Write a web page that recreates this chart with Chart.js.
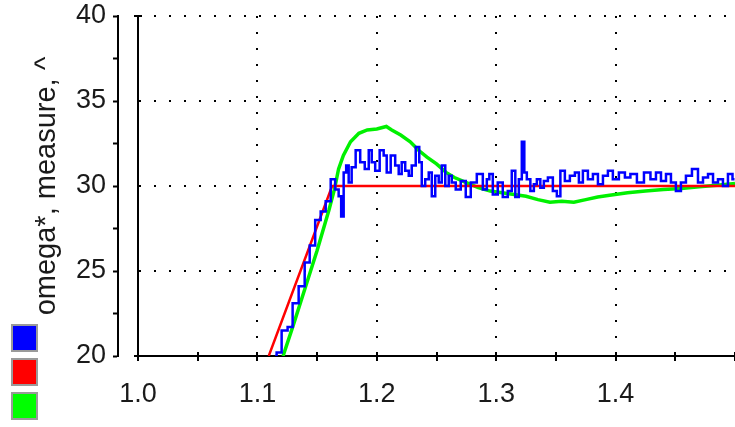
<!DOCTYPE html>
<html>
<head>
<meta charset="utf-8">
<script src="https://cdn.jsdelivr.net/npm/chart.js@4/dist/chart.umd.min.js"></script>
<style>
  html, body { margin: 0; padding: 0; background: #fff; }
  #c { display: block; }
</style>
</head>
<body>
<canvas id="c" width="735" height="427"></canvas>
<script>
// Speed step response: reference omega*, measured speed and estimate
const refX = [1.1095, 1.1626, 1.5];
const refY = [20, 30, 30];

const measX = [
  1.1148, 1.1174, 1.1232, 1.1274, 1.1316, 1.1375, 1.1417, 1.1459, 1.1509, 1.1551,
  1.1593, 1.1635, 1.1668, 1.1693, 1.1710, 1.1735, 1.1752, 1.1777, 1.1802, 1.1844,
  1.1878, 1.1920, 1.1945, 1.1970, 1.2003, 1.2045, 1.2070, 1.2096, 1.2137, 1.2171,
  1.2196, 1.2221, 1.2255, 1.2280, 1.2305, 1.2347, 1.2364, 1.2389, 1.2422, 1.2448,
  1.2473, 1.2506, 1.2531, 1.2557, 1.2590, 1.2615, 1.2640, 1.2682, 1.2724, 1.2766,
  1.2808, 1.2867, 1.2909, 1.2934, 1.2951, 1.2992, 1.3034, 1.3076, 1.3118, 1.3143,
  1.3177, 1.3202, 1.3227, 1.3244, 1.3269, 1.3303, 1.3328, 1.3353, 1.3386, 1.3412,
  1.3454, 1.3495, 1.3521, 1.3554, 1.3596, 1.3638, 1.3680, 1.3705, 1.3747, 1.3789,
  1.3831, 1.3873, 1.3915, 1.3956, 1.3998, 1.4057, 1.4099, 1.4149, 1.4208, 1.4267,
  1.4317, 1.4359, 1.4401, 1.4443, 1.4484, 1.4526, 1.4568, 1.4610, 1.4669, 1.4711,
  1.4753, 1.4795, 1.4837, 1.4878, 1.4920, 1.4962, 1.4996
];
const measY = [
  20.0, 20.2, 21.5, 21.7, 23.1, 24.1, 25.5, 26.5, 28.0, 28.5,
  29.1, 30.4, 29.8, 29.4, 28.2, 30.8, 31.2, 30.2, 31.1, 32.1,
  31.4, 31.0, 32.1, 31.4, 30.9, 32.1, 31.8, 30.8, 31.8, 31.2,
  30.7, 31.4, 30.9, 30.6, 31.2, 32.3, 31.4, 30.0, 30.4, 30.8,
  29.4, 30.6, 30.2, 31.2, 30.0, 30.6, 30.2, 29.8, 30.3, 29.35,
  30.2, 30.7, 29.8, 30.4, 30.7, 29.5, 30.2, 29.35, 29.7, 30.9,
  29.35, 30.4, 32.6, 30.8, 30.4, 29.7, 30.1, 30.4, 29.9, 30.3,
  30.5, 29.7, 29.4, 30.9, 30.3, 30.6, 30.8, 30.2, 30.9, 30.4,
  30.7, 30.1, 30.6, 30.9, 30.4, 30.8, 30.5, 30.7, 30.2, 30.8,
  30.4, 30.8, 30.3, 30.7, 30.2, 29.7, 30.2, 30.6, 31.0, 30.2,
  30.5, 30.7, 30.2, 30.4, 30.0, 30.7, 30.4
];

const estX = [
  1.1215, 1.1300, 1.1400, 1.1500, 1.1600, 1.1645, 1.1680, 1.1720, 1.1780, 1.1850,
  1.1920, 1.2000, 1.2080, 1.2125, 1.2200, 1.2280, 1.2350, 1.2420, 1.2500, 1.2580,
  1.2650, 1.2750, 1.2850, 1.2950, 1.3050, 1.3150, 1.3250, 1.3350, 1.3450, 1.3550,
  1.3650, 1.3750, 1.3850, 1.3950, 1.4100, 1.4250, 1.4400, 1.4550, 1.4700, 1.4850,
  1.5000
];
const estY = [
  20.0, 21.8, 24.0, 26.2, 28.6, 29.8, 31.0, 31.8, 32.6, 33.1,
  33.3, 33.35, 33.5, 33.3, 33.0, 32.6, 32.1, 31.7, 31.3, 30.8,
  30.5, 30.2, 29.9, 29.7, 29.6, 29.5, 29.4, 29.2, 29.05, 29.1,
  29.05, 29.2, 29.35, 29.45, 29.6, 29.7, 29.8, 29.85, 29.95, 30.05,
  30.15
];

const xTicks = ['1.0', '1.1', '1.2', '1.3', '1.4'];
const yTicks = ['20', '25', '30', '35', '40'];

const pair = (xs, ys) => xs.map((x, i) => ({ x: x, y: ys[i] }));

const tickFont = { family: "'Liberation Sans', Arial, sans-serif", size: 27 };
const titleFont = { family: "'Liberation Sans', Arial, sans-serif", size: 29 };
const inkColor = '#1a1a1a';

// short tick marks above the time axis and a cap on the t = 1.0 line
const axisMarks = {
  id: 'axisMarks',
  afterDatasetsDraw(chart) {
    const { ctx, scales } = chart;
    const x = scales.x, y = scales.y;
    ctx.save();
    ctx.strokeStyle = '#000';
    ctx.lineWidth = 2;
    ctx.beginPath();
    x.ticks.forEach(t => {
      const px = Math.round(x.getPixelForValue(t.value));
      ctx.moveTo(px, x.top - 4);
      ctx.lineTo(px, x.top);
    });
    const top = y.getPixelForValue(y.max);
    const x0 = x.getPixelForValue(x.min);
    ctx.moveTo(x0 - 4, top);
    ctx.lineTo(x0 + 4, top);
    ctx.moveTo(x0 - 4, x.top);
    ctx.lineTo(x0, x.top);
    ctx.stroke();
    ctx.restore();
  }
};

new Chart(document.getElementById('c'), {
  type: 'line',
  data: {
    datasets: [
      { label: 'measure', data: pair(measX, measY), borderColor: '#0000ff', backgroundColor: '#0000ff',
        borderWidth: 2.5, pointRadius: 0, tension: 0, stepped: 'middle' },
      { label: 'omega*', data: pair(refX, refY), borderColor: '#ff0000', backgroundColor: '#ff0000',
        borderWidth: 2.5, pointRadius: 0, tension: 0 },
      { label: '^', data: pair(estX, estY), borderColor: '#00f000', backgroundColor: '#00ff00',
        borderWidth: 3.5, pointRadius: 0, tension: 0 }
    ]
  },
  options: {
    responsive: false,
    animation: false,
    layout: { padding: { left: 4, top: 16, right: 0, bottom: 0 } },
    plugins: {
      tooltip: { enabled: false },
      legend: {
        position: 'left',
        align: 'end',
        onClick: null,
        labels: {
          boxWidth: 25,
          boxHeight: 26,
          padding: 8,
          font: { size: 2 },
          generateLabels: chart => chart.data.datasets.map((d, i) => ({
            text: '',
            fillStyle: d.backgroundColor,
            strokeStyle: '#9a9a9a',
            lineWidth: 2,
            hidden: false,
            datasetIndex: i
          }))
        }
      }
    },
    scales: {
      x: {
        type: 'linear',
        position: 'bottom',
        min: 1.0,
        max: 1.5,
        afterFit: s => { s.height = 71; s.paddingLeft = 0; s.paddingRight = 0; },
        ticks: {
          stepSize: 0.05,
          autoSkip: false,
          maxRotation: 0,
          padding: 17,
          font: tickFont,
          color: inkColor,
          callback: v => {
            const r = Math.round(v * 100);
            if (r % 10 !== 0) return '';
            const idx = (r - 100) / 10;
            return idx < xTicks.length ? xTicks[idx] : '';
          }
        },
        grid: {
          color: c => {
            const r = Math.round(c.tick.value * 100);
            return (r % 10 === 0 && r > 100 && r < 150) ? '#000' : 'rgba(0,0,0,0)';
          },
          lineWidth: 2,
          tickColor: '#000',
          tickLength: 5,
          tickWidth: 2
        },
        border: { display: true, color: '#000', width: 2, dash: [2, 14] }
      },
      y: {
        type: 'linear',
        position: 'left',
        weight: 2,
        min: 20,
        max: 40,
        afterFit: s => { s.width = 70; s.paddingTop = 0; s.paddingBottom = 0; },
        ticks: {
          stepSize: 2.5,
          padding: 7,
          font: tickFont,
          color: inkColor,
          callback: v => {
            const r = Math.round(v * 10);
            if (r % 50 !== 0) return '';
            return yTicks[(r - 200) / 50];
          }
        },
        grid: {
          drawOnChartArea: false,
          tickLength: 5,
          tickColor: '#000',
          tickWidth: 2
        },
        border: { display: true, color: '#000', width: 2 },
        title: {
          display: true,
          text: 'omega*, measure, ^',
          font: titleFont,
          color: inkColor,
          padding: { top: -18, bottom: 0 }
        }
      },
      y2: {
        type: 'linear',
        position: 'left',
        weight: 1,
        min: 20,
        max: 40,
        afterFit: s => { s.width = 20; s.paddingTop = 0; s.paddingBottom = 0; },
        ticks: { display: false, stepSize: 5 },
        grid: { drawOnChartArea: true, drawTicks: false, color: '#000', lineWidth: 2 },
        border: { display: true, color: '#000', width: 2, dash: [2, 13] }
      }
    }
  },
  plugins: [axisMarks]
});
</script>
</body>
</html>
